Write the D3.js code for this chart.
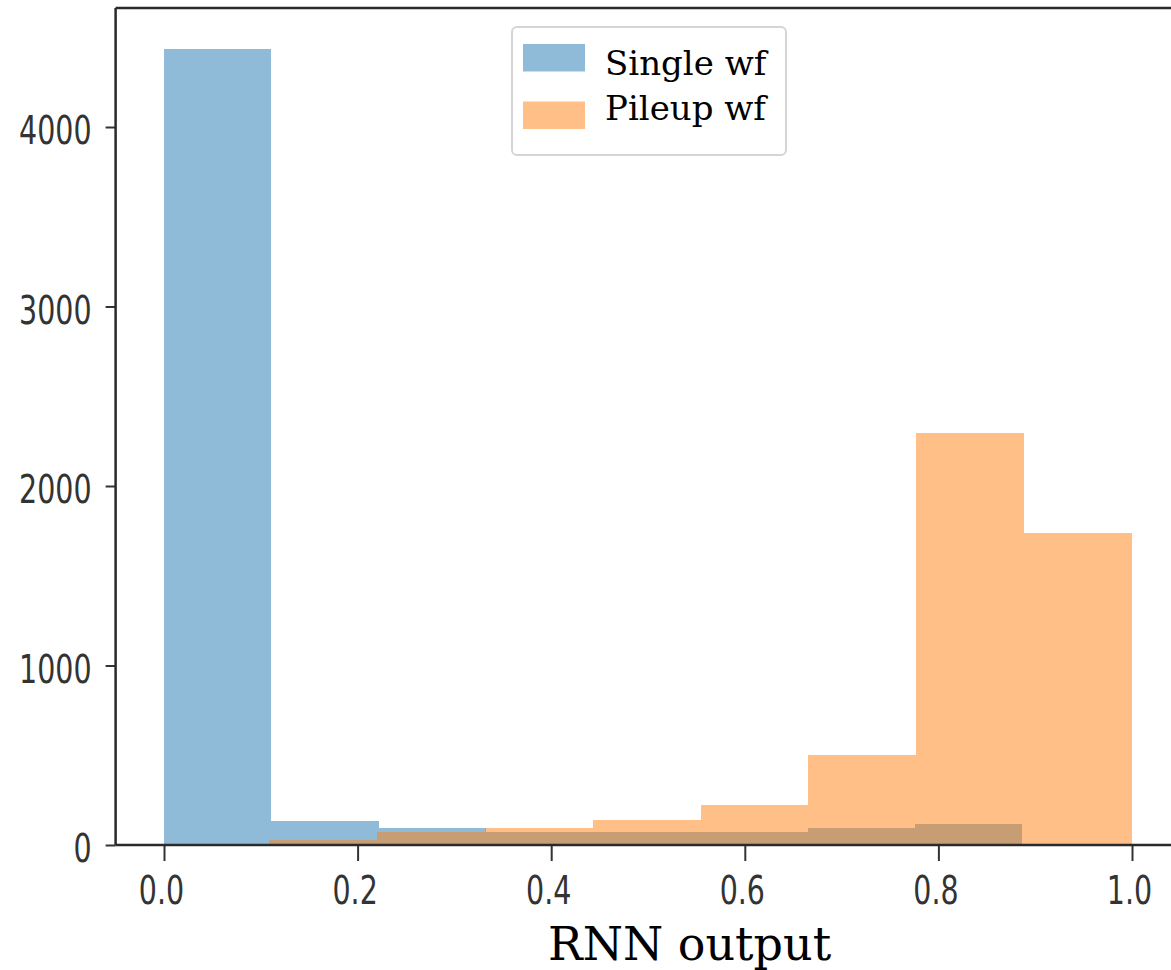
<!DOCTYPE html>
<html>
<head>
<meta charset="utf-8">
<script src="https://cdn.jsdelivr.net/npm/d3@7"></script>
<style>
  body { margin: 0; background: #fff; }
  svg { display: block; }
</style>
</head>
<body>
<svg id="chart" width="1171" height="970"></svg>
<script>
// histogram bin edges and counts
var singleEdges = [0, 0.1108, 0.2216, 0.3324, 0.4432, 0.554, 0.6648, 0.7756, 0.8864];
var singleCounts = [4436, 135, 93, 70, 70, 70, 93, 115];

var pileupEdges = [0.1085, 0.2199, 0.3314, 0.4428, 0.5543, 0.6657, 0.7771, 0.8886, 1.0];
var pileupCounts = [28, 70, 96, 139, 221, 501, 2296, 1740];

var xTicks = [0, 0.2, 0.4, 0.6, 0.8, 1.0];
var yTicks = [0, 1000, 2000, 3000, 4000];
var legendLabels = ["Single wf", "Pileup wf"];

var svg = d3.select("#chart");
svg.append("rect").attr("width", 1171).attr("height", 970).attr("fill", "#fff");

var x = d3.scaleLinear().domain([-0.05, 1.05]).range([115.6, 1180.4]);
var y = d3.scaleLinear().domain([0, 4663]).range([845, 8]);

function bins(edges, counts) {
  return counts.map(function(c, i) { return { x0: edges[i], x1: edges[i + 1], n: c }; });
}

var series = [
  { data: bins(singleEdges, singleCounts), color: "#1f77b4" },
  { data: bins(pileupEdges, pileupCounts), color: "#ff7f0e" }
];

series.forEach(function(s) {
  svg.append("g").selectAll("rect")
    .data(s.data)
    .enter()
    .append("rect")
    .attr("x", d => Math.round(x(d.x0)))
    .attr("width", d => Math.round(x(d.x1)) - Math.round(x(d.x0)))
    .attr("y", d => Math.round(y(d.n)))
    .attr("height", d => Math.round(y(0)) - Math.round(y(d.n)))
    .attr("shape-rendering", "crispEdges")
    .attr("fill", s.color)
    .attr("fill-opacity", 0.5);
});

// axes
var stretch = 1.4;
var yAxis = svg.append("g")
  .attr("transform", "translate(" + x(-0.05) + ",0)")
  .call(d3.axisLeft(y).tickValues(yTicks).tickFormat(d3.format("d")).tickSize(10).tickPadding(14));
yAxis.select(".domain").remove();
yAxis.selectAll("line").attr("stroke", "#333").attr("stroke-width", 2);
yAxis.selectAll("text")
  .attr("font-family", "DejaVu Sans")
  .attr("font-size", 28.5)
  .attr("fill", "#333")
  .attr("dy", "0.42em")
  .attr("transform", "scale(1," + stretch + ")");

var xAxis = svg.append("g")
  .attr("transform", "translate(0," + y(0) + ")")
  .call(d3.axisBottom(x).tickValues(xTicks).tickFormat(d3.format(".1f")).tickSize(16));
xAxis.select(".domain").remove();
xAxis.selectAll("line").attr("stroke", "#333").attr("stroke-width", 2);
xAxis.selectAll("text")
  .attr("font-family", "DejaVu Sans")
  .attr("font-size", 28.5)
  .attr("fill", "#333")
  .attr("y", 22)
  .attr("dy", "0.71em")
  .attr("dx", -3)
  .attr("transform", "scale(1," + stretch + ")");

// spines (the right one falls outside the picture)
var spine = svg.append("g").attr("stroke", "#2a2a2a").attr("stroke-width", 2.5).attr("fill", "none");
spine.append("line").attr("x1", x(-0.05)).attr("x2", x(-0.05)).attr("y1", y.range()[1]).attr("y2", y(0));
spine.append("line").attr("x1", x(-0.05)).attr("x2", x(1.05)).attr("y1", y.range()[1]).attr("y2", y.range()[1]);
spine.append("line").attr("x1", x(-0.05)).attr("x2", x(1.05)).attr("y1", y(0)).attr("y2", y(0));

// x label
svg.append("text")
  .attr("x", 548)
  .attr("y", 960)
  .attr("font-family", "DejaVu Serif")
  .attr("font-size", 46)
  .attr("fill", "#000")
  .text("RNN output");

// legend
var legend = svg.append("g");
legend.append("rect")
  .attr("x", 512).attr("y", 27)
  .attr("width", 274).attr("height", 128)
  .attr("rx", 5)
  .attr("fill", "#fff")
  .attr("stroke", "#d5d5d5")
  .attr("stroke-width", 2);

legendLabels.forEach(function(label, i) {
  legend.append("rect")
    .attr("x", 523).attr("y", 44 + i * 57.5)
    .attr("width", 62).attr("height", 27.5)
    .attr("fill", series[i].color)
    .attr("fill-opacity", 0.5);
  legend.append("text")
    .attr("x", 605).attr("y", 75 + i * 45)
    .attr("font-family", "DejaVu Serif")
    .attr("font-size", 34)
    .attr("fill", "#000")
    .text(label);
});
</script>
</body>
</html>
